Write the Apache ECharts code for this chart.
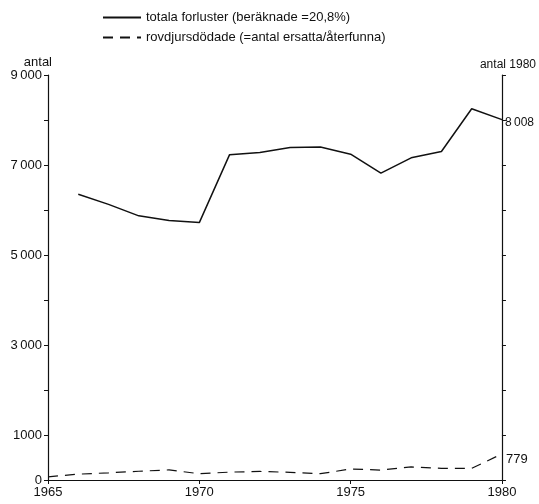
<!DOCTYPE html>
<html>
<head>
<meta charset="utf-8">
<script src="https://cdn.jsdelivr.net/npm/echarts@6/dist/echarts.min.js"></script>
<style>
  html, body { margin: 0; padding: 0; background: #fff; }
  #chart { width: 539px; height: 504px; }
</style>
</head>
<body>
<div id="chart"></div>
<script>
// data
const years = [1965, 1966, 1967, 1968, 1969, 1970, 1971, 1972, 1973, 1974, 1975, 1976, 1977, 1978, 1979, 1980];
const totalLosses = [null, 6350, 6125, 5870, 5765, 5720, 7230, 7280, 7390, 7400, 7240, 6820, 7160, 7300, 8250, 8008];
const predatorKilled = [70, 130, 160, 195, 225, 140, 175, 190, 170, 140, 245, 220, 290, 260, 260, 580];
const seriesNames = ['totala forluster (beräknade =20,8%)', 'rovdjursdödade (=antal ersatta/återfunna)'];
const endLabels = ['8\u2009008', '779'];
const yTickLabels = { 0: '0', 1000: '1000', 3000: '3\u2009000', 5000: '5\u2009000', 7000: '7\u2009000', 9000: '9\u2009000' };

const font = 'Liberation Sans';
const chart = echarts.init(document.getElementById('chart'), null, { renderer: 'canvas' });

const axisLine = { show: true, lineStyle: { color: '#111', width: 1.2 } };

chart.setOption({
    backgroundColor: '#fff',
    animation: false,
    textStyle: { fontFamily: font, color: '#111' },
    legend: {
        orient: 'vertical',
        left: 97,
        top: 6,
        itemWidth: 38,
        itemHeight: 10,
        itemGap: 7,
        itemStyle: { opacity: 0 },
        textStyle: { fontFamily: font, fontSize: 13, color: '#111' },
        data: seriesNames
    },
    grid: { left: 48, right: 36, top: 75, bottom: 24 },
    xAxis: {
        type: 'value',
        min: 1965,
        max: 1980,
        interval: 5,
        axisLine: axisLine,
        axisTick: { show: true, length: 4, lineStyle: { color: '#111' } },
        splitLine: { show: false },
        axisLabel: { fontFamily: font, fontSize: 13, color: '#111', margin: 6, formatter: v => String(v) }
    },
    yAxis: [
        {
            type: 'value',
            min: 0,
            max: 9000,
            interval: 1000,
            name: 'antal',
            nameLocation: 'end',
            nameGap: 4,
            nameTextStyle: { fontFamily: font, fontSize: 13, color: '#111', align: 'right', padding: [0, -4, 0, 0] },
            axisLine: axisLine,
            axisTick: { show: true, length: 4, lineStyle: { color: '#111' } },
            splitLine: { show: false },
            axisLabel: {
                fontFamily: font, fontSize: 13, color: '#111', margin: 6,
                formatter: v => yTickLabels[v] || ''
            }
        },
        {
            type: 'value',
            min: 0,
            max: 9000,
            interval: 1000,
            position: 'right',
            name: 'antal 1980',
            nameLocation: 'end',
            nameGap: 4,
            nameTextStyle: { fontFamily: font, fontSize: 12, color: '#111', align: 'left', padding: [0, 0, 0, -22] },
            axisLine: axisLine,
            axisTick: { show: true, length: 4, lineStyle: { color: '#111' } },
            splitLine: { show: false },
            axisLabel: { show: false }
        }
    ],
    series: [
        {
            name: seriesNames[0],
            type: 'line',
            symbol: 'none',
            data: years.map((y, i) => [y, totalLosses[i]]),
            lineStyle: { color: '#111', width: 1.5, type: 'solid' },
            itemStyle: { color: '#111' },
            endLabel: { show: true, formatter: () => endLabels[0], fontFamily: font, fontSize: 12, color: '#111', distance: 3, offset: [0, 3] }
        },
        {
            name: seriesNames[1],
            type: 'line',
            symbol: 'none',
            data: years.map((y, i) => [y, predatorKilled[i]]),
            lineStyle: { color: '#111', width: 1.2, type: [10, 7] },
            itemStyle: { color: '#111' },
            endLabel: { show: true, formatter: () => endLabels[1], fontFamily: font, fontSize: 13, color: '#111', distance: 4, offset: [0, 6] }
        }
    ]
});
</script>
</body>
</html>
